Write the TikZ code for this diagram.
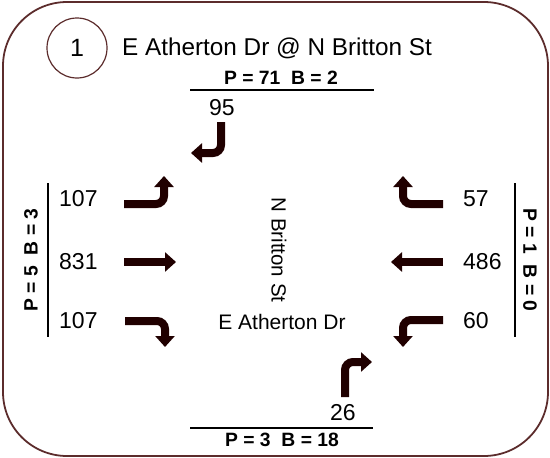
\documentclass[tikz,border=0pt]{standalone}
\usepackage{fontspec}
\setmainfont{Liberation Sans}
\usetikzlibrary{arrows.meta}
\definecolor{frame}{RGB}{92,44,44}
\definecolor{arrowfill}{RGB}{32,0,0}
\tikzset{
  label/.style={inner sep=0pt, font=\fontsize{23}{23}\selectfont},
  street/.style={inner sep=0pt, font=\fontsize{21}{21}\selectfont},
  peds/.style={inner sep=0pt, font=\bfseries\fontsize{19.3}{19.3}\selectfont},
  movearrow/.style={draw=arrowfill, line width=8pt, rounded corners=8pt,
    -{Triangle[width=19pt,length=11pt]}},
  crosswalk/.style={draw=black, line width=2.6pt},
}
\begin{document}
\begin{tikzpicture}[x=1pt,y=-1pt]
\useasboundingbox (0,0) rectangle (550,458);
% outer frame
\draw[frame, line width=1.8pt, rounded corners=64pt] (3,2) rectangle (548,456);
% intersection number and title
\node[draw=frame, line width=1.2pt, circle, minimum size=60pt, inner sep=0pt,
  font=\fontsize{25}{25}\selectfont] (num) at (77,48) {1};
\node[label, anchor=base west, font=\fontsize{24.3}{24.3}\selectfont] (title) at (122,55) {E Atherton Dr @ N Britton St};
% north leg
\node[peds] (pN) at (281,78) {P = 71\ \ B = 2};
\coordinate (nL) at (190,90);
\coordinate (nR) at (374,90);
\draw[crosswalk] (nL) -- (nR);
\node[label] (vS) at (222,108) {95};
% south leg
\coordinate (sL) at (190,428);
\coordinate (sR) at (373,428);
\draw[crosswalk] (sL) -- (sR);
\node[peds] (pS) at (282,440) {P = 3\ \ B = 18};
\node[label] (vN) at (343,413) {26};
% west leg
\coordinate (wT) at (48,183);
\coordinate (wB) at (48,337);
\draw[crosswalk] (wT) -- (wB);
\node[peds, rotate=90] (pW) at (31,260) {P = 5\ \ B = 3};
\node[label, anchor=west] (eL) at (59,199) {107};
\node[label, anchor=west] (eT) at (59,262) {831};
\node[label, anchor=west] (eR) at (59,321) {107};
% east leg
\coordinate (eTop) at (515,183);
\coordinate (eBot) at (515,337);
\draw[crosswalk] (eTop) -- (eBot);
\node[peds, rotate=-90] (pE) at (530,260) {P = 1\ \ B = 0};
\node[label, anchor=west] (wL) at (463,199) {57};
\node[label, anchor=west] (wT2) at (463,262) {486};
\node[label, anchor=west] (wR) at (463,321) {60};
% street names
\node[street, font=\fontsize{20.5}{20.5}\selectfont, rotate=-90] (nb) at (279,250) {N Britton St};
\node[street] (ea) at (282,322) {E Atherton Dr};
% turning movements
\draw[movearrow] (221,122) -- (221,153) -- (191,153);
\draw[movearrow] (124,204) -- (164,204) -- (164,176);
\draw[movearrow] (124,262) -- (176,262);
\draw[movearrow] (125,321) -- (165,321) -- (165,347);
\draw[movearrow] (443,204) -- (403,204) -- (403,176);
\draw[movearrow] (443,262) -- (391,262);
\draw[movearrow] (443,320) -- (403,320) -- (403,347);
\draw[movearrow] (345,397) -- (345,362) -- (372,362);
\end{tikzpicture}
\end{document}
